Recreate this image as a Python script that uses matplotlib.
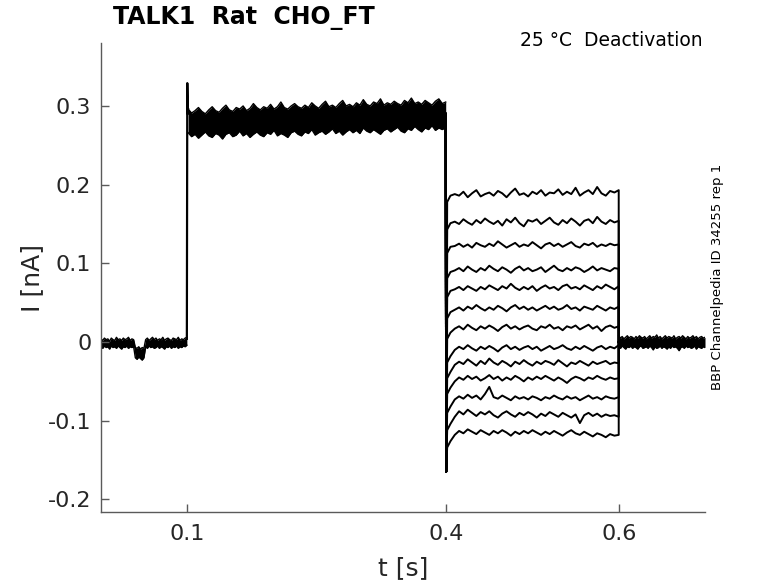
import numpy as np
import matplotlib
matplotlib.use("Agg")
import matplotlib.pyplot as plt

# values in units of 0.001 nA
# baseline before the step (0 - 0.1 s)
pre_top = [4, 2, 5, 3, 4, 1, 5, 3, 2, 6, 3, 4, 2, 5, 3, 4, 6, 2, 4, 3,
           -7, -8, -6, -9, -7, -8, 3, 5, 2, 4, 6, 3, 5, 2, 4, 3,
           6, 2, 4, 5, 3, 2, 5, 4, 3, 6, 2, 4, 3, 5, 6]
pre_bot = [-6, -8, -5, -7, -6, -9, -5, -7, -6, -8, -5, -7, -9, -6, -7, -5, -8, -6, -7, -6,
           -20, -22, -19, -21, -23, -20, -6, -8, -5, -7, -6, -8, -7, -5, -8, -6,
           -7, -9, -6, -7, -5, -8, -6, -7, -5, -8, -6, -7, -5, -6, -4]

# activation step (0.1 - 0.4 s), envelope of the overlapping sweeps
step_peak = 329
step_top = [296, 291, 294, 298, 293, 290, 295, 299, 294, 292, 297, 301, 295, 293, 298, 296, 300, 294, 297, 303,
            298, 295, 299, 297, 302, 296, 299, 305, 298, 296, 300, 303, 299, 297, 301, 298, 304, 300, 297, 302,
            306, 299, 301, 298, 303, 307, 300, 302, 299, 304, 301, 308, 302, 300, 305, 303, 309, 301, 304, 302,
            306, 303, 301, 307, 304, 310, 303, 305, 302, 307, 304, 301, 306, 309, 303, 305]
step_bot = [266, 261, 264, 259, 263, 267, 262, 260, 265, 263, 258, 264, 266, 261, 263, 268, 262, 265, 260, 264,
            267, 263, 261, 266, 264, 269, 262, 265, 263, 260, 266, 268, 264, 262, 267, 265, 270, 263, 266, 268,
            264, 267, 271, 265, 268, 263, 267, 270, 266, 269, 265, 272, 268, 266, 270, 267, 264, 269, 271, 267,
            270, 273, 268, 266, 271, 269, 274, 270, 267, 272, 270, 275, 269, 272, 270, 273]

# tail currents (0.4 - 0.6 s), one list per sweep
tail_spike = -165
tails = [
    [186, 188, 186, 191, 184, 189, 193, 185, 188, 190, 186, 192, 189, 184, 190, 195, 187, 189, 185, 191,
     188, 193, 186, 190, 189, 194, 187, 191, 188, 196, 186, 190, 193, 188, 197, 189, 186, 192, 190, 193],
    [151, 153, 150, 156, 152, 149, 155, 151, 157, 153, 150, 154, 148, 156, 152, 158, 151, 147, 155, 153,
     156, 150, 154, 158, 152, 149, 155, 151, 157, 153, 148, 154, 156, 151, 159, 153, 150, 155, 152, 154],
    [121, 122, 125, 121, 124, 120, 126, 123, 121, 125, 122, 128, 124, 120, 123, 126, 121, 124, 122, 127,
     123, 119, 124, 126, 122, 125, 121, 124, 127, 122, 120, 125, 123, 126, 121, 124, 122, 125, 123, 124],
    [89, 91, 94, 90, 96, 92, 89, 94, 91, 97, 93, 90, 95, 92, 88, 93, 96, 91, 94, 90,
     92, 95, 89, 93, 97, 92, 90, 94, 91, 95, 93, 89, 92, 96, 91, 94, 92, 90, 94, 93],
    [65, 67, 70, 66, 71, 68, 65, 70, 67, 72, 69, 66, 71, 68, 74, 69, 66, 70, 67, 71,
     65, 69, 72, 68, 70, 66, 71, 73, 68, 70, 67, 72, 69, 66, 71, 68, 73, 70, 67, 71],
    [38, 41, 44, 40, 45, 42, 47, 43, 40, 44, 41, 46, 43, 39, 44, 47, 42, 45, 41, 44,
     40, 43, 46, 42, 45, 41, 43, 47, 42, 44, 40, 45, 43, 41, 46, 43, 40, 44, 42, 45],
    [12, 17, 20, 16, 22, 18, 15, 20, 17, 21, 18, 14, 19, 22, 17, 20, 16, 19, 21, 17,
     15, 20, 18, 22, 17, 19, 15, 20, 18, 21, 16, 19, 22, 17, 20, 14, 19, 21, 18, 20],
    [-18, -10, -6, -9, -4, -8, -11, -6, -9, -5, -8, -12, -7, -4, -9, -6, -10, -7, -5, -9,
     -6, -11, -8, -5, -9, -7, -4, -8, -10, -6, -9, -5, -8, -11, -7, -5, -9, -6, -8, -4],
    [-38, -29, -25, -28, -22, -26, -30, -24, -28, -21, -26, -29, -24, -27, -31, -25, -28, -23, -27, -30,
     -25, -28, -24, -26, -29, -23, -27, -31, -26, -28, -24, -27, -30, -25, -28, -26, -24, -28, -26, -27],
    [-58, -50, -45, -48, -43, -47, -44, -49, -46, -42, -47, -44, -49, -45, -48, -43, -46, -50, -45, -48,
     -44, -47, -43, -46, -49, -45, -48, -52, -47, -44, -46, -49, -45, -47, -43, -46, -48, -45, -47, -46],
    [-82, -73, -69, -72, -67, -71, -68, -73, -66, -57, -70, -72, -68, -71, -74, -69, -72, -70, -73, -69,
     -71, -74, -70, -72, -68, -71, -73, -69, -72, -70, -74, -71, -68, -72, -70, -73, -69, -71, -72, -70],
    [-104, -95, -88, -92, -86, -90, -94, -89, -92, -88, -93, -96, -91, -88, -92, -95, -90, -93, -89, -92,
     -96, -91, -94, -89, -92, -95, -90, -93, -96, -92, -103, -93, -90, -94, -91, -95, -92, -94, -93, -95],
    [-126, -118, -113, -116, -111, -114, -117, -112, -115, -118, -113, -116, -112, -115, -119, -114, -117, -113, -116, -112,
     -115, -118, -114, -117, -113, -116, -119, -115, -112, -116, -118, -114, -117, -120, -116, -118, -121, -117, -119, -118],
]

# baseline after the tail (0.6 - 0.7 s)
post_top = [8, 5, 7, 4, 6, 8, 5, 7, 6, 4, 7, 5, 8, 6, 5, 7, 4, 6, 8, 5, 7, 6, 9, 5, 7, 4,
            6, 8, 5, 7, 6, 5, 8, 4, 6, 7, 5, 8, 6, 4, 7, 5, 6, 8, 5, 7, 4, 6, 7, 5, 6]
post_bot = [-6, -8, -5, -7, -9, -6, -7, -5, -8, -6, -7, -9, -6, -5, -8, -7, -6, -8, -5, -7, -10,
            -6, -8, -7, -5, -8, -6, -7, -9, -6, -8, -5, -7, -6, -8, -11, -7, -6, -8, -5, -7,
            -6, -8, -7, -5, -9, -6, -7, -8, -6, -7]

x_ticks = [0.1, 0.4, 0.6]
x_tick_labels = ["0.1", "0.4", "0.6"]
y_ticks = [-0.2, -0.1, 0, 0.1, 0.2, 0.3]
y_tick_labels = ["-0.2", "-0.1", "0", "0.1", "0.2", "0.3"]


def nA(vals):
    return np.array(vals) / 1000.0


def band(ax, t0, t1, top, bot):
    t = np.linspace(t0, t1, len(top))
    ax.fill_between(t, nA(bot), nA(top), color='k', lw=0)
    ax.plot(t, nA(top), color='k', lw=1.0)
    ax.plot(t, nA(bot), color='k', lw=1.0)


fig = plt.figure(figsize=(7.78, 5.83), dpi=100)
ax = fig.add_axes([101 / 778, 1 - 512 / 583, 604 / 778, 469 / 583])

band(ax, 0.0, 0.0995, pre_top, pre_bot)
# jump to the step and its onset peak
ax.plot([0.0995, 0.1, 0.1006, 0.101], [0.004, step_peak / 1000.0, 0.29, 0.296], color='k', lw=1.6)
band(ax, 0.101, 0.3995, step_top, step_bot)
band(ax, 0.6, 0.7, post_top, post_bot)

for tr in tails:
    t = np.concatenate([[0.3995, 0.4, 0.4012], np.linspace(0.405, 0.6, len(tr)), [0.6]])
    y = np.concatenate([[0.29, tail_spike / 1000.0, tr[0] / 1000.0 - 0.008], nA(tr), [0.0]])
    ax.plot(t, y, color='k', lw=1.4)

ax.set_xlim(0, 0.7)
ax.set_ylim(-0.216, 0.38)
ax.set_xticks(x_ticks)
ax.set_xticklabels(x_tick_labels)
ax.set_yticks(y_ticks)
ax.set_yticklabels(y_tick_labels)
for s in ['top', 'right']:
    ax.spines[s].set_visible(False)
for s in ['left', 'bottom']:
    ax.spines[s].set_color('#5a5a5a')
    ax.spines[s].set_linewidth(1.0)
ax.tick_params(direction='in', length=6, width=1.0, color='#5a5a5a',
               labelsize=16, labelcolor='#262626')
ax.tick_params(axis='y', pad=7)
ax.tick_params(axis='x', pad=9)

ax.set_xlabel("t [s]", fontsize=18, color='#262626', labelpad=8)
ax.set_ylabel("I [nA]", fontsize=18, color='#262626', labelpad=3)

fig.text(113 / 778, 1 - 18 / 583, "TALK1  Rat  CHO_FT", fontsize=17, fontweight='bold',
         ha='left', va='center')
fig.text(703 / 778, 1 - 41 / 583, "25 °C  Deactivation", fontsize=13.5,
         ha='right', va='center')
fig.text(717 / 778, 1 - 277 / 583, "BBP Channelpedia ID 34255 rep 1", fontsize=9.5,
         rotation=90, ha='center', va='center')

fig.savefig("out.png", dpi=100)
